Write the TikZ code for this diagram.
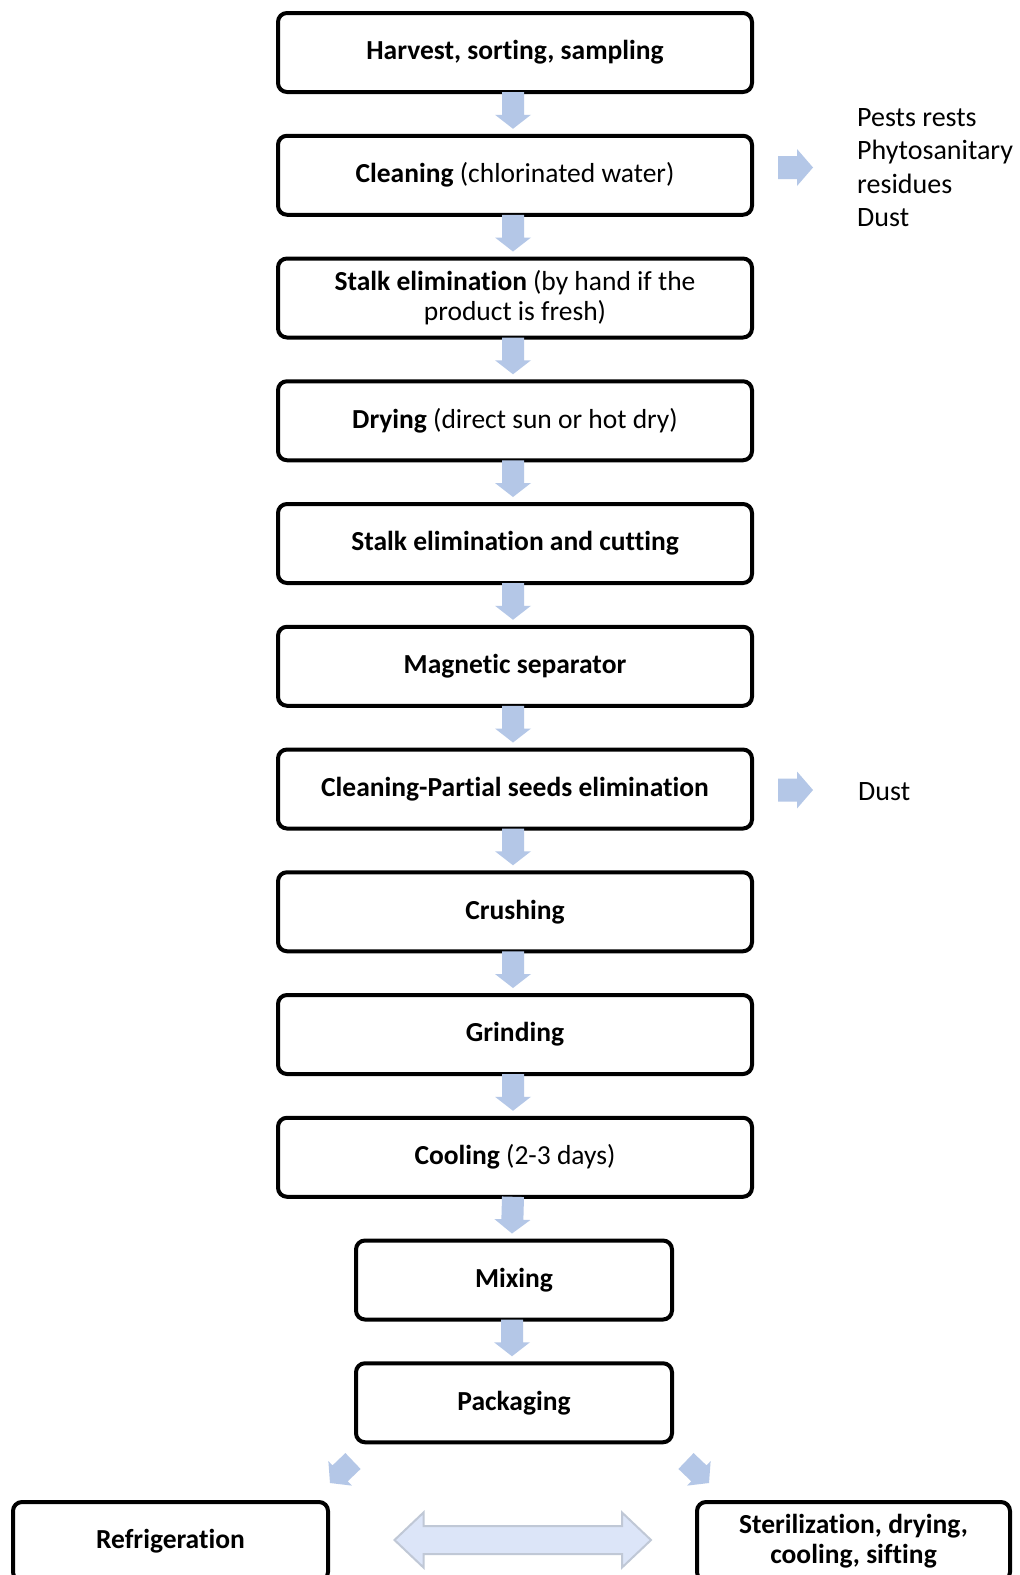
\documentclass[tikz,border=0pt]{standalone}
\usepackage{fontspec}
\setmainfont{Carlito}[Ligatures={NoCommon}]
\usetikzlibrary{calc}
\definecolor{arrowblue}{HTML}{B4C7E7}
\definecolor{dblfill}{HTML}{DCE5F8}
\definecolor{dbledge}{HTML}{C0C8D6}
\tikzset{
 stepbox/.style={draw=black, line width=4pt, rounded corners=9pt, minimum width=474pt, minimum height=79pt, inner sep=0pt, align=center, font=\fontsize{27.5pt}{30pt}\selectfont},
 smallbox/.style={stepbox, minimum width=316pt},
 flowfill/.style={fill=arrowblue, draw=none},
 dblstyle/.style={fill=dblfill, draw=dbledge, line width=2pt, line join=miter},
 wastetext/.style={align=left, inner sep=0pt, anchor=west, font=\fontsize{28pt}{33.5pt}\selectfont},
}
% block arrow: #2 start, #3 end, #4 shaft half width, #5 head half width, #6 head length
\newcommand\flowarrow[6][]{%
 \path (#2) coordinate (fa-s) (#3) coordinate (fa-e);
 \path ($(fa-e)!#6!(fa-s)$) coordinate (fa-h);
 \filldraw[flowfill,#1] ($(fa-s)!#4!90:(fa-e)$) -- ($(fa-h)!#4!-90:(fa-s)$) -- ($(fa-h)!#5!-90:(fa-s)$) -- (fa-e) -- ($(fa-h)!#5!90:(fa-s)$) -- ($(fa-h)!#4!90:(fa-s)$) -- ($(fa-s)!#4!-90:(fa-e)$) -- cycle;
}
% double block arrow
\newcommand\dblblockarrow[6][]{%
 \path (#2) coordinate (da-s) (#3) coordinate (da-e);
 \path ($(da-s)!#6!(da-e)$) coordinate (da-hs) ($(da-e)!#6!(da-s)$) coordinate (da-he);
 \filldraw[dblstyle,#1] (da-s) -- ($(da-hs)!#5!90:(da-e)$) -- ($(da-hs)!#4!90:(da-e)$) -- ($(da-he)!#4!-90:(da-s)$) -- ($(da-he)!#5!-90:(da-s)$) -- (da-e) -- ($(da-he)!#5!90:(da-s)$) -- ($(da-he)!#4!90:(da-s)$) -- ($(da-hs)!#4!-90:(da-e)$) -- ($(da-hs)!#5!-90:(da-e)$) -- cycle;
}
\begin{document}
\begin{tikzpicture}[x=1pt, y=-1pt]
\useasboundingbox (0,0) rectangle (1020,1575);
\clip (0,0) rectangle (1020,1575);
\fill[white] (0,0) rectangle (1020,1575);

\node[stepbox] (c0) at (515,52.5) {\textbf{Harvest, sorting, sampling}};
\node[stepbox] (c1) at (515,175.25) {\textbf{Cleaning} (chlorinated water)};
\node[stepbox] (c2) at (515,298) {\textbf{Stalk elimination} (by hand if the\\product is fresh)};
\node[stepbox] (c3) at (515,420.75) {\textbf{Drying} (direct sun or hot dry)};
\node[stepbox] (c4) at (515,543.5) {\textbf{Stalk elimination and cutting}};
\node[stepbox] (c5) at (515,666.25) {\textbf{Magnetic separator}};
\node[stepbox] (c6) at (515,789) {\textbf{Cleaning-Partial seeds elimination}};
\node[stepbox] (c7) at (515,911.75) {\textbf{Crushing}};
\node[stepbox] (c8) at (515,1034.5) {\textbf{Grinding}};
\node[stepbox] (c9) at (515,1157.25) {\textbf{Cooling} (2-3 days)};
\node[smallbox] (c10) at (514,1280) {\textbf{Mixing}};
\node[smallbox] (c11) at (514,1402.75) {\textbf{Packaging}};
\node[stepbox, minimum width=315pt, font=\fontsize{27.5pt}{30pt}\selectfont\bfseries] (refr) at (170.5,1541.5) {Refrigeration};
\node[stepbox, minimum width=313pt, font=\fontsize{27.5pt}{30pt}\selectfont\bfseries] (ster) at (853.5,1541.5) {Sterilization, drying,\\cooling, sifting};

\node[wastetext] (w1) at (857,167.5) {Pests rests\\Phytosanitary\\residues\\Dust};
\node[wastetext] (w2) at (858,792) {Dust};

\foreach \a/\b in {c0/c1,c1/c2,c2/c3,c3/c4,c4/c5,c5/c6,c6/c7,c7/c8,c8/c9,c9/c10,c10/c11}
  \flowarrow{[xshift=-2pt,yshift=2pt]\a.south}{[xshift=-2pt,yshift=5pt]\b.north}{11pt}{18pt}{14pt};

\flowarrow{$(c1.east |- w1.west)+(24pt,0)$}{[xshift=-44pt]w1.west}{11.5pt}{18.5pt}{16pt};
\flowarrow{$(c6.east |- w2.west)+(24pt,2pt)$}{[xshift=-45pt,yshift=2pt]w2.west}{11.5pt}{18.5pt}{16pt};

\coordinate (dl-s) at (353,1461);
\coordinate (dl-e) at (330,1483);
\coordinate (dr-s) at (686,1461);
\coordinate (dr-e) at (709,1483);
\flowarrow{dl-s}{dl-e}{11pt}{17pt}{14pt};
\flowarrow{dr-s}{dr-e}{11pt}{17pt}{14pt};

\dblblockarrow{$(refr.east)+(64.5pt,1.5pt)$}{$(ster.west)+(-44pt,1.5pt)$}{14pt}{27.5pt}{29pt};
\end{tikzpicture}
\end{document}
